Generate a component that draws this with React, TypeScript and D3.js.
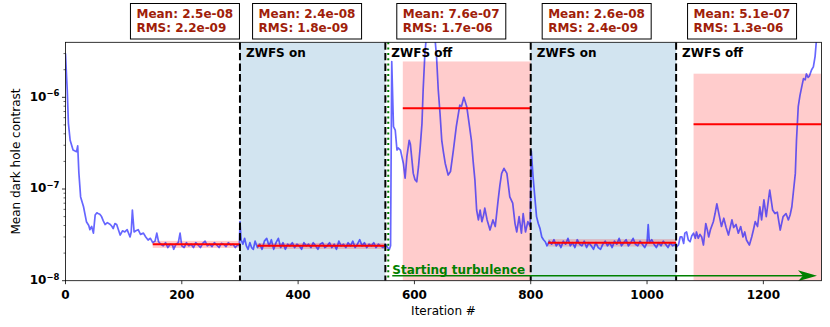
import React from "react";
import * as d3 from "d3";

// Mean dark hole contrast, [iteration, contrast in units of 1e-8]
const calibration: [number, number][] = [
  [0, 300], [2, 160], [3, 120], [5, 52], [8, 34], [13, 26.6], [19, 25.5], [21, 29.5], [23, 15],
  [26, 8.2], [31, 6.4], [36, 4.4], [40, 4.0], [42, 3.6], [45, 3.9], [48, 3.3], [51, 5.2], [54, 5.5],
  [56, 5.4], [59, 5.3], [62, 5.0], [65, 4.5], [68, 4.1], [72, 4.3], [77, 4.1], [80, 3.9], [82, 3.7],
  [85, 4.2], [88, 4.1], [91, 3.6], [94, 3.15], [98, 3.5], [102, 3.4], [106, 3.6], [111, 3.0],
  [113, 3.4], [115, 5.9], [118, 3.4], [121, 3.5], [125, 3.6], [129, 3.2], [134, 3.3], [138, 3.0],
  [142, 2.78], [146, 2.9], [150, 2.6], [154, 2.7], [157, 3.3], [160, 2.66], [164, 2.5], [168, 2.4],
  [172, 2.6], [176, 2.3], [180, 2.5], [184, 2.45], [186, 2.2], [190, 2.5], [194, 2.6], [197, 3.3],
  [200, 2.4], [204, 2.3], [208, 2.6], [212, 2.4], [216, 2.5], [220, 2.3], [224, 2.6], [228, 2.45],
  [232, 2.3], [236, 2.55], [240, 2.7], [244, 2.4], [248, 2.5], [252, 2.35], [256, 2.6], [260, 2.45],
  [264, 2.3], [268, 2.55], [272, 2.5], [276, 2.35], [280, 2.6], [284, 2.45], [288, 2.5], [292, 2.3],
  [296, 2.45], [299, 2.4],
];
const zwfsOn1: [number, number][] = [
  [300, 4.4], [302, 2.8], [305, 2.5], [308, 2.9], [311, 2.4], [314, 2.2], [317, 2.6], [320, 2.3],
  [323, 2.2], [326, 2.7], [330, 2.3], [334, 2.5], [338, 2.2], [342, 2.7], [346, 2.9], [350, 2.4],
  [354, 2.8], [358, 2.2], [362, 2.6], [366, 2.9], [370, 2.3], [374, 2.6], [378, 2.2], [382, 2.5],
  [386, 2.4], [390, 2.6], [394, 2.3], [398, 2.5], [402, 2.4], [406, 2.2], [410, 2.6], [414, 2.4],
  [418, 2.5], [422, 2.3], [426, 2.6], [430, 2.4], [434, 2.2], [438, 2.5], [442, 2.6], [446, 2.3],
  [450, 2.4], [454, 2.6], [458, 2.3], [462, 2.5], [466, 2.2], [470, 2.7], [474, 2.4], [478, 2.5],
  [482, 2.3], [486, 2.6], [490, 2.4], [494, 2.7], [498, 2.3], [502, 2.5], [506, 2.8], [510, 2.4],
  [514, 2.6], [518, 2.3], [522, 2.5], [526, 2.4], [530, 2.6], [534, 2.3], [538, 2.5], [542, 2.4],
  [546, 2.3], [550, 2.5], [554, 2.3], [557, 2.2], [559, 2.4],
];
const zwfsOff1: [number, number][] = [
  [561, 245], [564, 48], [567, 44], [570, 26.6], [572, 28], [576, 26.6], [581, 19], [584, 13.1],
  [587, 22.5], [591, 34], [593, 31], [598, 14.8], [601, 12.6], [604, 12], [607, 17.5], [610, 29],
  [613, 52], [615, 120], [618, 300], [621, 500], [625, 650], [630, 700], [634, 550], [638, 280],
  [641, 120], [644, 67], [647, 34], [650, 25], [653, 19], [658, 14.2], [662, 15.5], [667, 26.6],
  [672, 48], [678, 82], [681, 80], [685, 100], [690, 79], [694, 52], [698, 34], [701, 20],
  [704, 12.6], [707, 5.9], [710, 4.6], [713, 5.9], [716, 4.4], [719, 5.2], [721, 6.2], [725, 4.6],
  [730, 3.57], [735, 4.6], [739, 3.9], [744, 7.6], [747, 11], [750, 14.8], [754, 16.8], [759, 14.8],
  [764, 8.2], [769, 7.0], [773, 4.2], [776, 3.4], [780, 5.0], [784, 3.3], [787, 5.4], [791, 3.4],
  [795, 4.4], [799, 3.9],
];
const zwfsOn2: [number, number][] = [
  [801, 26], [804, 13.6], [807, 8.2], [810, 5.0], [813, 4.2], [816, 3.7], [819, 3.0], [822, 2.8],
  [825, 2.66], [828, 2.4], [832, 2.7], [836, 2.5], [840, 2.8], [844, 2.4], [848, 2.6], [852, 2.3],
  [856, 2.7], [860, 2.5], [864, 2.9], [868, 2.4], [872, 2.6], [876, 2.3], [880, 2.8], [884, 2.5],
  [888, 2.4], [892, 2.7], [896, 2.3], [900, 2.6], [904, 2.4], [908, 2.2], [912, 2.6], [916, 2.3],
  [920, 2.2], [924, 2.5], [928, 2.7], [932, 2.4], [936, 2.6], [940, 2.3], [944, 2.7], [948, 2.5],
  [952, 2.9], [956, 2.4], [960, 2.6], [964, 2.8], [968, 2.4], [972, 2.6], [976, 2.9], [980, 2.5],
  [984, 2.4], [988, 2.7], [992, 2.5], [996, 2.3], [1000, 2.6], [1002, 4.1], [1004, 2.6], [1008, 2.8],
  [1012, 2.5], [1016, 2.3], [1020, 2.6], [1024, 2.4], [1028, 2.7], [1032, 2.5], [1036, 2.3],
  [1040, 2.6], [1044, 2.4], [1048, 2.5], [1050, 2.3],
];
const zwfsOff2: [number, number][] = [
  [1054, 2.45], [1057, 3.0], [1060, 3.0], [1063, 2.55], [1065, 3.3], [1068, 3.4], [1071, 2.78],
  [1074, 2.66], [1077, 3.1], [1080, 3.3], [1083, 2.9], [1085, 3.4], [1088, 2.9], [1091, 3.2],
  [1094, 3.0], [1097, 2.45], [1101, 4.2], [1104, 3.5], [1106, 3.0], [1109, 3.6], [1111, 3.9],
  [1114, 4.4], [1117, 5.4], [1120, 6.9], [1124, 5.2], [1128, 3.9], [1132, 4.8], [1136, 3.8],
  [1140, 3.15], [1143, 3.8], [1146, 4.6], [1149, 3.8], [1153, 4.1], [1157, 3.3], [1161, 3.9],
  [1165, 3.0], [1168, 3.4], [1171, 2.78], [1176, 2.45], [1180, 3.0], [1183, 3.6], [1186, 4.4],
  [1190, 3.9], [1194, 6.4], [1197, 4.6], [1201, 7.6], [1205, 5.0], [1208, 7.0], [1211, 9.75],
  [1216, 5.9], [1220, 5.4], [1224, 5.6], [1229, 3.57], [1234, 5.0], [1239, 5.4], [1243, 4.6],
  [1246, 5.2], [1249, 6.4], [1252, 9.75], [1255, 14.8], [1257, 34], [1260, 79], [1263, 105],
  [1266, 130], [1269, 160], [1272, 155], [1274, 180], [1277, 165], [1279, 170], [1283, 200],
  [1286, 215], [1289, 280], [1291, 400], [1295, 550], [1300, 700],
];
const contrastUnit = 1e-8;

// Statistics windows
const segmentStarts = [150, 330, 580, 830, 1080];
const segmentEnds = [300, 550, 800, 1050, 1300];
const segmentMeans = [2.5e-8, 2.4e-8, 7.6e-7, 2.6e-8, 5.1e-7];
const segmentRms = [2.2e-9, 1.8e-9, 1.7e-6, 2.4e-9, 1.3e-6];
const meanLabels = ["2.5e-08", "2.4e-08", "7.6e-07", "2.6e-08", "5.1e-07"];
const rmsLabels = ["2.2e-09", "1.8e-09", "1.7e-06", "2.4e-09", "1.3e-06"];
const boxAnchors = [122, 332, 580, 830, 1080];

// Phases
const zwfsOnStarts = [300, 800];
const zwfsOnEnds = [550, 1050];
const phaseLines = [300, 550, 800, 1050];
const phaseTexts = ["ZWFS on", "ZWFS off", "ZWFS on", "ZWFS off"];
const turbulenceStart = 555;
const turbulenceText = "Starting turbulence";

// Axes
const xDomain = [0, 1300];
const yDomain = [1e-8, Math.pow(10, -5.4)];
const xTicks = [0, 200, 400, 600, 800, 1000, 1200];
const yMajorTicks = [1e-8, 1e-7, 1e-6];
const yExponents = ["\u22128", "\u22127", "\u22126"];
const xLabel = "Iteration #";
const yLabel = "Mean dark hole contrast";

const W = 830;
const H = 327;
const left = 65.5;
const right = 821.5;
const top = 42.3;
const bottom = 280.7;
const FONT = "DejaVu Sans, sans-serif";
const boxColor = "#a01e0a";

export default function App() {
  const x = d3.scaleLinear().domain(xDomain).range([left, right]);
  const y = d3.scaleLog().domain(yDomain).range([bottom, top]);

  const series = [...calibration, ...zwfsOn1, ...zwfsOff1, ...zwfsOn2, ...zwfsOff2];
  const line = d3
    .line<[number, number]>()
    .x((d) => x(d[0]))
    .y((d) => y(d[1] * contrastUnit));
  const path = line(series) || "";

  const minorTicks: number[] = [];
  for (let e = -8; e <= -6; e++) {
    for (let m = 2; m <= 9; m++) {
      const v = m * Math.pow(10, e);
      if (v <= yDomain[1]) minorTicks.push(v);
    }
  }

  const ay = 275.7;
  const arrowX0 = x(turbulenceStart) + 4;
  const arrowX1 = 817;

  return (
    <svg width={W} height={H} style={{ display: "block", position: "absolute", left: 0, top: 0 }} fontFamily={FONT}>
      <defs>
        <clipPath id="plot">
          <rect x={left} y={top} width={right - left} height={bottom - top} />
        </clipPath>
      </defs>
      <rect width={W} height={H} fill="white" />
      <g clipPath="url(#plot)">
        {zwfsOnStarts.map((s, i) => (
          <rect key={"on" + i} x={x(s)} y={top} width={x(zwfsOnEnds[i]) - x(s)} height={bottom - top}
            fill="#1f77b4" fillOpacity={0.2} />
        ))}
        {segmentStarts.map((s, i) => {
          const lo = Math.max(segmentMeans[i] - segmentRms[i], yDomain[0]);
          const hi = segmentMeans[i] + segmentRms[i];
          return (
            <rect key={"band" + i} x={x(s)} y={y(hi)} width={x(segmentEnds[i]) - x(s)} height={y(lo) - y(hi)}
              fill="red" fillOpacity={0.2} />
          );
        })}
        <path d={path} fill="none" stroke="blue" strokeOpacity={0.6} strokeWidth={1.7} strokeLinejoin="round" />
        {segmentStarts.map((s, i) => (
          <line key={"mean" + i} x1={x(s)} x2={x(segmentEnds[i])} y1={y(segmentMeans[i])} y2={y(segmentMeans[i])}
            stroke="red" strokeWidth={2} />
        ))}
        {phaseLines.map((p, i) => (
          <line key={"ph" + i} x1={x(p)} x2={x(p)} y1={top} y2={bottom} stroke="black" strokeWidth={2}
            strokeDasharray="7.4,3.2" />
        ))}
        <line x1={x(turbulenceStart)} x2={x(turbulenceStart)} y1={top} y2={bottom} stroke="green" strokeWidth={2}
          strokeDasharray="2,3.3" />
        <line x1={arrowX0} x2={arrowX1 - 8} y1={ay} y2={ay} stroke="green" strokeWidth={1.5} />
        <path d={`M${arrowX1},${ay} L${arrowX1 - 19},${ay - 5.5} L${arrowX1 - 14},${ay} L${arrowX1 - 19},${ay + 5.5} Z`}
          fill="green" />
      </g>

      {phaseLines.map((p, i) => (
        <text key={"pt" + i} x={x(p) + 6} y={57} fontSize={12} fontWeight="bold" fill="black">
          {phaseTexts[i]}
        </text>
      ))}
      <text x={x(turbulenceStart) + 4} y={273.5} fontSize={12} fontWeight="bold" fill="green">
        {turbulenceText}
      </text>

      {/* spines */}
      <rect x={left} y={top} width={right - left} height={bottom - top} fill="none" stroke="black" strokeWidth={0.8} />

      {/* x ticks */}
      {xTicks.map((t) => (
        <g key={"xt" + t}>
          <line x1={x(t)} x2={x(t)} y1={bottom} y2={bottom + 3.5} stroke="black" strokeWidth={0.8} />
          <text x={x(t)} y={299} fontSize={12} fontWeight="bold" textAnchor="middle">
            {t}
          </text>
        </g>
      ))}
      <text x={(left + right) / 2} y={315} fontSize={12} textAnchor="middle">
        {xLabel}
      </text>

      {/* y ticks */}
      {minorTicks.map((t, i) => (
        <line key={"ym" + i} x1={left - 2} x2={left} y1={y(t)} y2={y(t)} stroke="black" strokeWidth={0.6} />
      ))}
      {yMajorTicks.map((t, i) => (
        <g key={"yt" + i}>
          <line x1={left - 3.5} x2={left} y1={y(t)} y2={y(t)} stroke="black" strokeWidth={0.8} />
          <text x={left - 6} y={y(t) + 3.4} fontSize={12} fontWeight="bold" textAnchor="end">
            <tspan>10</tspan>
            <tspan dy={-4.6} fontSize={8.5}>{yExponents[i]}</tspan>
          </text>
        </g>
      ))}
      <text transform={`translate(19.5,${(top + bottom) / 2}) rotate(-90)`} fontSize={12} textAnchor="middle">
        {yLabel}
      </text>

      {/* stat boxes */}
      {boxAnchors.map((a, i) => {
        const tx = x(a);
        return (
          <g key={"box" + i}>
            <rect x={tx - 6} y={3.5} width={109} height={35.5} fill="white" stroke="black" strokeWidth={1} />
            <text x={tx} y={17.5} fontSize={12} fontWeight="bold" fill={boxColor}>
              {"Mean: " + meanLabels[i]}
            </text>
            <text x={tx} y={31.5} fontSize={12} fontWeight="bold" fill={boxColor}>
              {"RMS: " + rmsLabels[i]}
            </text>
          </g>
        );
      })}
    </svg>
  );
}
